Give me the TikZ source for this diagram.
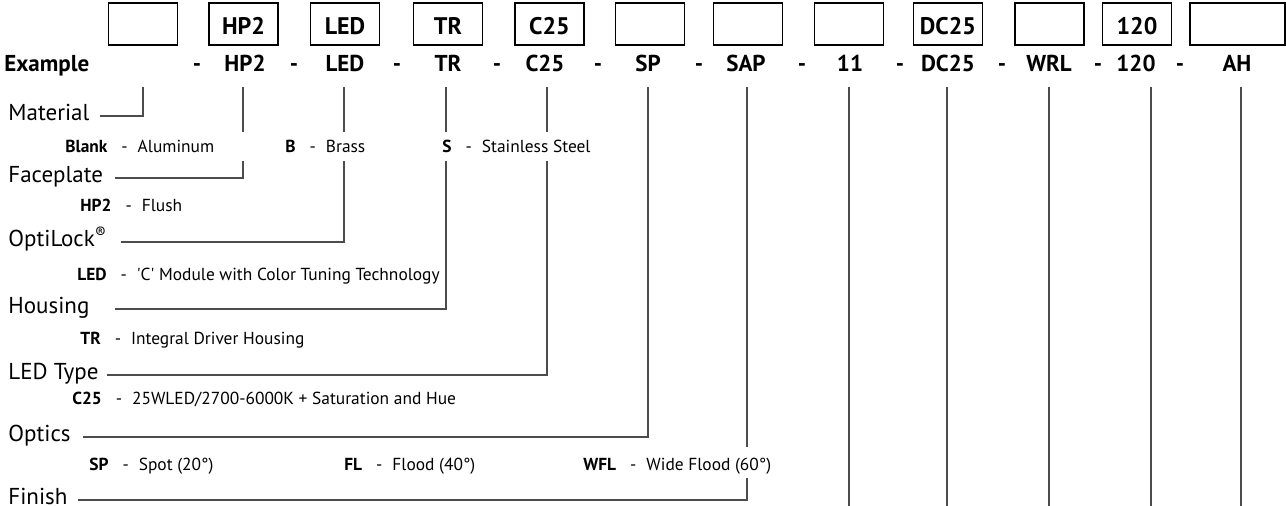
\documentclass[tikz,border=0pt]{standalone}
\usepackage{fontspec}
\setmainfont{PT Sans}
\pgfdeclarelayer{back}
\pgfsetlayers{back,main}
\newcommand{\pick}[2]{\textbf{#1}\hspace{7pt}-\hspace{5pt}#2}
\tikzset{
  codebox/.style={draw, line width=0.7pt, minimum width=34.5pt, minimum height=21pt, inner sep=0pt, text height=11pt, text depth=0pt, font=\fontsize{12}{14}\selectfont\bfseries},
  codetext/.style={anchor=base, inner sep=0pt, font=\fontsize{11.5}{13}\selectfont\bfseries},
  field/.style={anchor=mid west, inner sep=0pt, font=\fontsize{11.5}{13}\selectfont},
  choice/.style={anchor=base west, inner sep=0pt, font=\fontsize{8.7}{10}\selectfont},
  lead/.style={draw=black!70, line width=0.65pt},
}

\begin{document}
\begin{tikzpicture}[x=0.5pt, y=-0.5pt]
  \useasboundingbox (0,0) rectangle (1286,506);
  \node[codebox] (b1) at (143,24) {};
  \node[codebox] (b2) at (243.5,24) {HP2};
  \node[codebox] (b3) at (345,24) {LED};
  \node[codebox] (b4) at (448,24) {TR};
  \node[codebox] (b5) at (549.5,24) {C25};
  \node[codebox] (b6) at (650,24) {};
  \node[codebox] (b7) at (748,24) {};
  \node[codebox] (b8) at (849,24) {};
  \node[codebox] (b9) at (948,24) {DC25};
  \node[codebox] (b10) at (1049.5,24) {};
  \node[codebox] (b11) at (1137,24) {120};
  \node[codebox, minimum width=47.5pt] (b12) at (1237.5,24) {};

  \node[codetext, anchor=base west] (ex) at (4,72) {Example};
  \node[codetext] (c2) at (245,72) {HP2};
  \node[codetext] (c3) at (345,72) {LED};
  \node[codetext] (c4) at (448,72) {TR};
  \node[codetext] (c5) at (545,72) {C25};
  \node[codetext] (c6) at (648,72) {SP};
  \node[codetext] (c7) at (746,72) {SAP};
  \node[codetext] (c8) at (850,72) {11};
  \node[codetext] (c9) at (948,72) {DC25};
  \node[codetext] (c10) at (1049,72) {WRL};
  \node[codetext] (c11) at (1136,72) {120};
  \node[codetext] (c12) at (1237,72) {AH};
  \node[codetext] (s1) at (197,72) {-};
  \node[codetext] (s2) at (294,72) {-};
  \node[codetext] (s3) at (397,72) {-};
  \node[codetext] (s4) at (497,72) {-};
  \node[codetext] (s5) at (598,72) {-};
  \node[codetext] (s6) at (699,72) {-};
  \node[codetext] (s7) at (802,72) {-};
  \node[codetext] (s8) at (900,72) {-};
  \node[codetext] (s9) at (1002,72) {-};
  \node[codetext] (s10) at (1098,72) {-};
  \node[codetext] (s11) at (1180,72) {-};

  \coordinate (t1) at (143,87);
  \coordinate (t2) at (243,87);
  \coordinate (t3) at (344,87);
  \coordinate (t4) at (446,87);
  \coordinate (t5) at (547,87);
  \coordinate (t6) at (648,87);
  \coordinate (t7) at (747,87);
  \coordinate (t8) at (849,87);
  \coordinate (t9) at (947,87);
  \coordinate (t10) at (1049,87);
  \coordinate (t11) at (1151,87);
  \coordinate (t12) at (1241,87);
  \coordinate (e8) at (849,512);
  \coordinate (e9) at (947,512);
  \coordinate (e10) at (1049,512);
  \coordinate (e11) at (1151,512);
  \coordinate (e12) at (1241,512);

  \node[field] (mat) at (8,116) {Material};
  \node[field] (fac) at (8,178) {Faceplate};
  \node[field] (opl) at (8,242) {OptiLock\textsuperscript{®}};
  \node[field] (hou) at (8,309) {Housing};
  \node[field] (typ) at (8,375) {LED Type};
  \node[field] (ops) at (8,437) {Optics};
  \node[field] (fin) at (8,500) {Finish};

  \node[choice] (alu) at (65,153) {\pick{Blank}{Aluminum}};
  \node[choice] (bra) at (285,153) {\pick{B}{Brass}};
  \node[choice] (sst) at (442,153) {\pick{S}{Stainless Steel}};
  \node[choice] (flu) at (80,212) {\pick{HP2}{Flush}};
  \node[choice] (ctt) at (77,281) {\pick{LED}{\textquotesingle C\textquotesingle{} Module with Color Tuning Technology}};
  \node[choice] (idh) at (80,345) {\pick{TR}{Integral Driver Housing}};
  \node[choice] (sat) at (72,405) {\pick{C25}{25WLED/2700-6000K + Saturation and Hue}};
  \node[choice] (spo) at (89,471) {\pick{SP}{Spot (20°)}};
  \node[choice] (flo) at (344,471) {\pick{FL}{Flood (40°)}};
  \node[choice] (wfl) at (583,471) {\pick{WFL}{Wide Flood (60°)}};

  \begin{pgfonlayer}{back}
    \draw[lead] ([xshift=5pt]mat.mid east) -| (t1);
    \draw[lead] ([xshift=6pt]fac.mid east) -| (t2);
    \draw[lead] ([xshift=7pt]opl.mid east) -| (t3);
    \draw[lead] ([xshift=12.5pt]hou.mid east) -| (t4);
    \draw[lead] ([xshift=4pt]typ.mid east) -| (t5);
    \draw[lead] ([xshift=6pt]ops.mid east) -| (t6);
    \draw[lead] ([xshift=5pt]fin.mid east) -| (t7);
    \draw[lead] (t8) -- (e8);
    \draw[lead] (t9) -- (e9);
    \draw[lead] (t10) -- (e10);
    \draw[lead] (t11) -- (e11);
    \draw[lead] (t12) -- (e12);
    \fill[white] (200,132) rectangle (600,161);
    \fill[white] (700,447) rectangle (770,478);
  \end{pgfonlayer}
\end{tikzpicture}
\end{document}
